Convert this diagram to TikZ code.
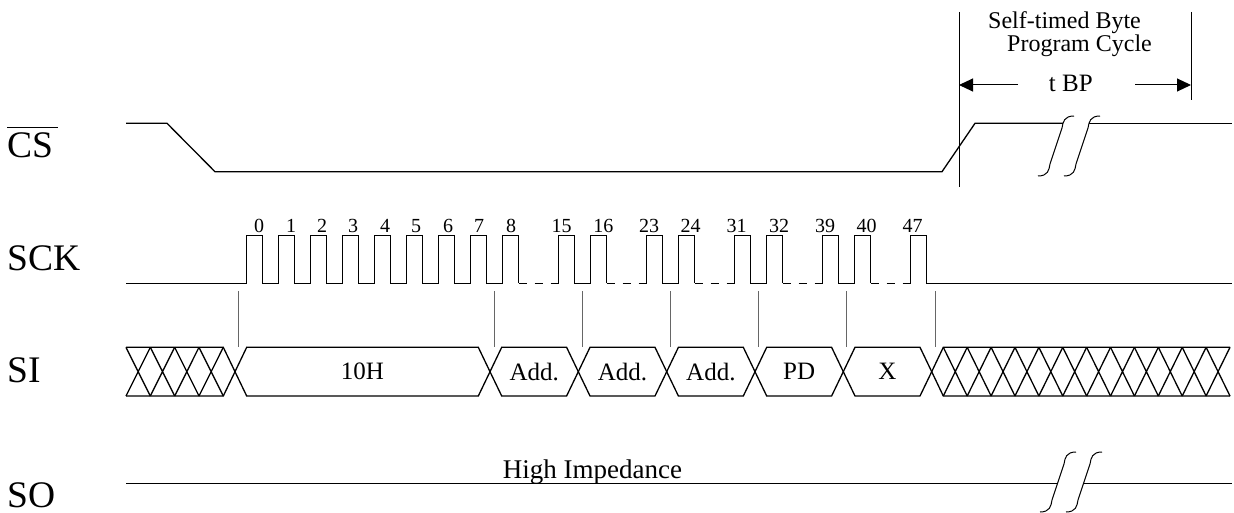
\documentclass[tikz,border=0pt]{standalone}
\usepackage{fontspec}
\setmainfont{Liberation Serif}
\usetikzlibrary{arrows.meta}
\begin{document}
\begin{tikzpicture}[x=1pt,y=-1pt,
  wave/.style={line width=1.3pt},
  gap/.style={line width=1.3pt, dash pattern=on 8pt off 8pt},
  clkguide/.style={line width=0.9pt, black!60},
  cyc/.style={line width=1pt},
  sig/.style={font=\fontsize{37.5}{40}\selectfont, anchor=base west, inner sep=0pt},
  num/.style={font=\fontsize{20}{22}\selectfont, anchor=base, inner sep=0pt},
  dat/.style={font=\fontsize{25}{28}\selectfont, inner sep=0pt},
  note/.style={font=\fontsize{24}{26}\selectfont, anchor=base west, inner sep=0pt}]
\useasboundingbox (0,0) rectangle (1234,513);

\node (cs) [sig] at (7,158) {$\overline{\mbox{CS\rule{0pt}{29pt}\hspace{5pt}}}$};
\node (sck)[sig] at (7,270) {SCK};
\node (si) [sig] at (7,382) {SI};
\node (so) [sig] at (7,507) {SO};

% CS
\draw[wave] (126,123.3) -- (167,123.3) -- (215,171.7) -- (942,171.7) -- (975,123.3) -- (1063,123.3);
\draw[wave] (1089,123.3) -- (1232,123.3);
\foreach \bx/\by in {1038/146, 1040/482}
  \foreach \dx in {0,26}
    \draw[cyc] ({\bx+\dx},{\by+30}) .. controls ({\bx+\dx+10},{\by+30}) and ({\bx+\dx+11},{\by+24}) .. ({\bx+\dx+12},{\by+18})
      -- ({\bx+\dx+24},{\by-18}) .. controls ({\bx+\dx+25},{\by-24}) and ({\bx+\dx+26},{\by-30}) .. ({\bx+\dx+36},{\by-30});

% SCK
\draw[wave] (126,283.3) -- (246.7,283.3) \foreach \k in {0,...,8} { -- ({246.7+32*\k},283.3) -- ({246.7+32*\k},235.7) -- ({262.7+32*\k},235.7) -- ({262.7+32*\k},283.3) };
\foreach \p in {558.7,646.7,734.7,822.7} {
  \draw[gap] ({\p-40},283.3) -- (\p,283.3);
  \draw[wave] (\p,283.3) -- (\p,235.7) -- ({\p+16},235.7) -- ({\p+16},283.3) -- ({\p+32},283.3) -- ({\p+32},235.7) -- ({\p+48},235.7) -- ({\p+48},283.3);
}
\draw[gap] (870.7,283.3) -- (910.7,283.3);
\draw[wave] (910.7,283.3) -- (910.7,235.7) -- (926.7,235.7) -- (926.7,283.3) -- (1232,283.3);
\foreach \n/\x in {0/259,1/291,2/322,3/353,4/385,5/416,6/448,7/479,8/511,15/561.7,16/603.3,23/649,24/690.7,31/736.7,32/779,39/825,40/866.7,47/912.7}
  \node (n\n) [num] at (\x,232.3) {\n};
\foreach \x in {238.3,494.3,582.3,670.7,758.3,846.7,935}
  \draw[clkguide] (\x,291) -- (\x,347.3);

% SI
\draw[wave] (126,347.3) -- (223.3,347.3) -- (235,371.7) -- (223.3,396) -- (126,396);
\foreach \k in {0,...,3}
  \draw[wave] ({126+24.33*\k},347.3) -- ({150.33+24.33*\k},396) ({126+24.33*\k},396) -- ({150.33+24.33*\k},347.3);
\foreach \a/\b/\t/\nm in {235/490/10H/cmd, 490/578.3/Add./adda, 578.3/666.7/Add./addb, 666.7/755/Add./addc, 755/843.3/PD/pd, 843.3/931.7/X/dummy} {
  \draw[wave] (\a,371.7) -- ({\a+11.7},347.3) -- ({\b-11.7},347.3) -- (\b,371.7) -- ({\b-11.7},396) -- ({\a+11.7},396) -- cycle;
  \node (\nm) [dat] at ({(\a+\b)/2},371.7) {\t};
}
\draw[wave] (1230,347.3) -- (943.3,347.3) -- (931.7,371.7) -- (943.3,396) -- (1230,396);
\foreach \k in {0,...,11}
  \draw[wave] ({943.3+23.89*\k},347.3) -- ({967.2+23.89*\k},396) ({943.3+23.89*\k},396) -- ({967.2+23.89*\k},347.3);

% SO
\draw[wave] (126,483.3) -- (1058,483.3);
\draw[wave] (1084,483.3) -- (1232,483.3);
\node (hiz) [font=\fontsize{27}{30}\selectfont, anchor=base west, inner sep=0pt] at (502.7,478.3) {High Impedance};

% tBP
\coordinate (cycs) at (959,12);
\coordinate (cyce) at (1191,12);
\draw[cyc] (cycs) -- (959,187);
\draw[cyc] (cyce) -- (1191,100);
\node (stb) [note] at (988,28.3) {Self-timed Byte};
\node (pgc) [note] at (1007,51.7) {Program Cycle};
\node (tbp) [font=\fontsize{25}{28}\selectfont, anchor=base, inner sep=0pt] at (1070.8,91.7) {t BP};
\coordinate (tbpl) at (959,85);
\coordinate (tbpr) at (1191,85);
\draw[cyc, -{Triangle[length=14pt,width=13pt]}] (1018,85) -- (tbpl);
\draw[cyc, -{Triangle[length=14pt,width=13pt]}] (1135,85) -- (tbpr);
\end{tikzpicture}
\end{document}
